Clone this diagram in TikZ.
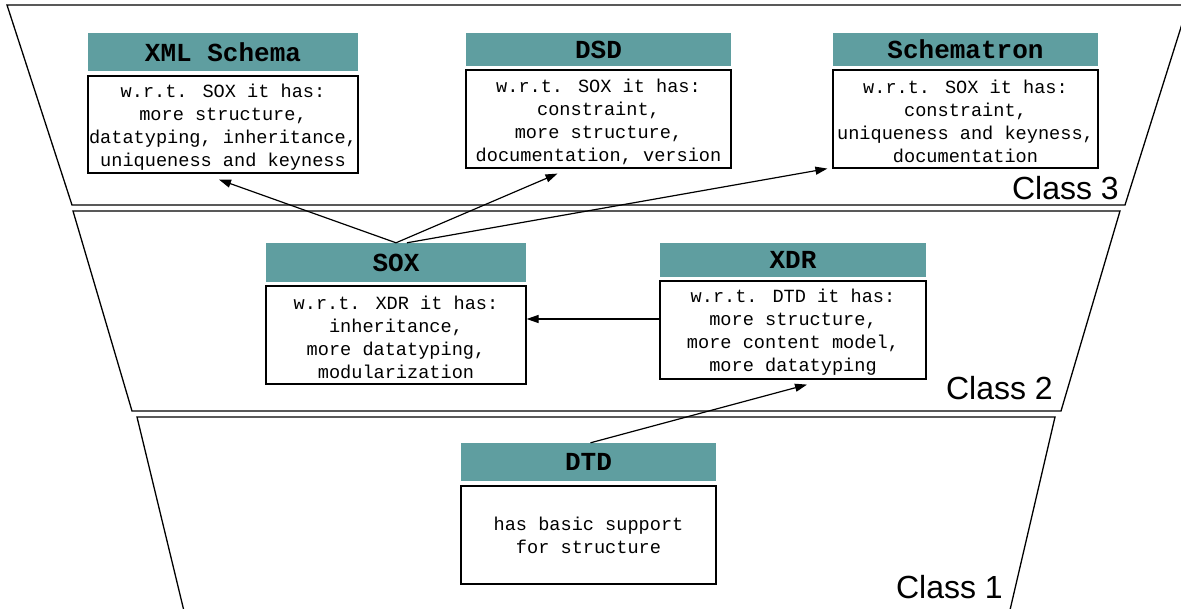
\documentclass[tikz,border=0pt]{standalone}
\usepackage{fontspec}
\usetikzlibrary{arrows.meta, positioning}
\newfontfamily\boxfont{Liberation Mono}
\newfontfamily\clsfont{Liberation Sans}
\definecolor{headteal}{RGB}{95,158,160}
\newcommand\topgap{\rule{0pt}{18.6pt}}

\begin{document}
\begin{tikzpicture}[x=1pt, y=-1pt,
    head/.style = {fill=headteal, inner sep=0pt,
        font=\boxfont\bfseries\fontsize{26}{30}\selectfont},
    body/.style = {draw, line width=1.2pt, inner sep=0pt, align=center,
        font=\boxfont\fontsize{18.6}{23}\selectfont},
    cls/.style = {anchor=base east, inner sep=0pt,
        font=\clsfont\fontsize{32}{36}\selectfont},
    layer/.style = {line width=1.3pt},
    link/.style = {line width=1.2pt, -{Triangle[length=12pt, width=8pt]}}]
    \useasboundingbox (0,0) rectangle (1181,609);

    % the three layers
    \draw [layer] (7,5) -- (1188,5) -- (1125,205) -- (72,205) -- cycle;
    \draw [layer] (73,211) -- (1120,211) -- (1061,411) -- (132,411) -- cycle;
    \draw [layer] (191,640) -- (137,417) -- (1055,417) -- (1003,640);
    \node (cls3) [cls] at (1119,200) {Class 3};
    \node (cls2) [cls] at (1053,400) {Class 2};
    \node (cls1) [cls] at (1003,598) {Class 1};

    % class 3
    \node (xsdHead) [head, minimum width=270, minimum height=38] at (223,52) {XML Schema};
    \node (xsdBody) [body, minimum width=270, minimum height=97] at (223,124.5)
        {\topgap w.r.t. SOX it has:\\more structure,\\datatyping, inheritance,\\uniqueness and keyness};
    \node (dsdHead) [head, minimum width=265, minimum height=33] at (598.5,49.5) {DSD};
    \node (dsdBody) [body, minimum width=265, minimum height=98] at (598.5,119)
        {\topgap w.r.t. SOX it has:\\constraint,\\more structure,\\documentation, version};
    \node (schHead) [head, minimum width=265, minimum height=33] at (965.5,49.5) {Schematron};
    \node (schBody) [body, minimum width=265, minimum height=98] at (965.5,119)
        {\topgap w.r.t. SOX it has:\\constraint,\\uniqueness and keyness,\\documentation};

    % class 2
    \node (soxHead) [head, minimum width=260, minimum height=39] at (396,262.5) {SOX};
    \node (soxBody) [body, minimum width=260, minimum height=98] at (396,335)
        {\topgap w.r.t. XDR it has:\\inheritance,\\more datatyping,\\modularization};
    \node (xdrHead) [head, minimum width=266, minimum height=34] at (793,260) {XDR};
    \node (xdrBody) [body, minimum width=266, minimum height=98] at (793,330)
        {\topgap w.r.t. DTD it has:\\more structure,\\more content model,\\more datatyping};

    % class 1
    \node (dtdHead) [head, minimum width=255, minimum height=38] at (588.5,462) {DTD};
    \node (dtdBody) [body, minimum width=255, minimum height=98] at (588.5,535)
        {has basic support\\for structure};

    \path [link]
        (soxHead.north) edge ([xshift=-4pt, yshift=-6pt]xsdBody.south)
        (soxHead.north) edge ([xshift=-41pt, yshift=-5pt]dsdBody.south)
        ([xshift=11pt]soxHead.north) edge ([xshift=-5pt]schBody.south west)
        ([yshift=11pt]xdrBody.west) edge ([yshift=16pt]soxBody.east)
        ([xshift=2pt]dtdHead.north) edge ([xshift=14pt, yshift=-5pt]xdrBody.south);
\end{tikzpicture}
\end{document}
